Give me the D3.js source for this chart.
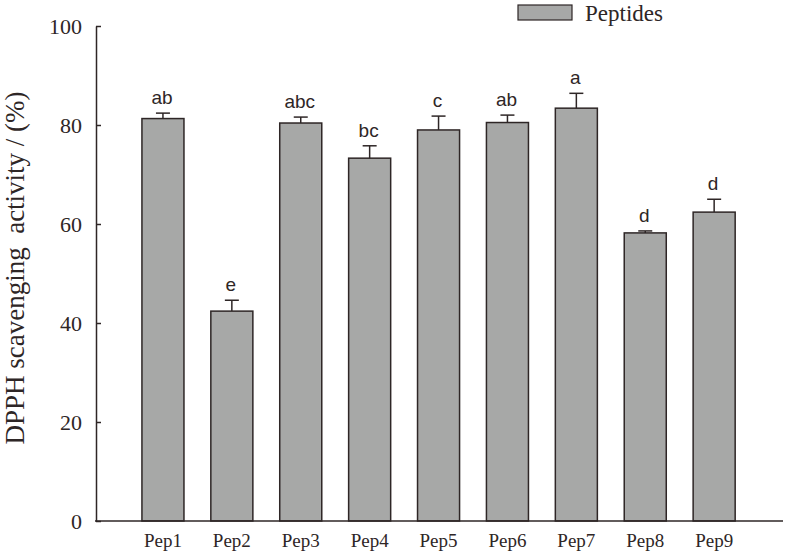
<!doctype html>
<html>
<head>
<script type='text/javascript' src='https://d3js.org/d3.v7.min.js'></script>
<style>body{margin:0;background:#fff;}</style>
</head>
<body>
<script>
var width = 788, height = 558;
// data
var peptides = ['Pep1','Pep2','Pep3','Pep4','Pep5','Pep6','Pep7','Pep8','Pep9'];
var activity = [81.3, 42.4, 80.4, 73.3, 79.0, 80.5, 83.4, 58.2, 62.4];
var errors = [1.1, 2.2, 1.2, 2.5, 2.8, 1.5, 3.0, 0.4, 2.6];
var letters = ['ab','e','abc','bc','c','ab','a','d','d'];
var yTicks = [0, 20, 40, 60, 80, 100];

var svg = d3.select('body').append('svg').attr('width', width).attr('height', height);
var ink = '#2e2626';
var serif = "'Liberation Serif', 'Times New Roman', serif";

var x = d3.scaleBand().domain(peptides).range([128.5, 748.6]).paddingInner(0.39).paddingOuter(0.195);
var y = d3.scaleLinear().domain([0, 100]).range([521, 26]);

// bars
svg.selectAll('rect.bar').data(peptides).join('rect')
  .attr('class','bar')
  .attr('x', function(d){ return x(d); })
  .attr('y', function(d,i){ return y(activity[i]); })
  .attr('width', x.bandwidth())
  .attr('height', function(d,i){ return y(0) - y(activity[i]); })
  .attr('fill', '#a7a8a7').attr('stroke', ink).attr('stroke-width', 1.5);

// error bars (upper only)
var eb = svg.selectAll('g.err').data(peptides).join('g').attr('class','err');
eb.append('line')
  .attr('x1', function(d){ return x(d) + x.bandwidth()/2; })
  .attr('x2', function(d){ return x(d) + x.bandwidth()/2; })
  .attr('y1', function(d,i){ return y(activity[i]); })
  .attr('y2', function(d,i){ return y(activity[i] + errors[i]); })
  .attr('stroke', ink).attr('stroke-width', 1.5);
eb.append('line')
  .attr('x1', function(d){ return x(d) + x.bandwidth()/2 - 7; })
  .attr('x2', function(d){ return x(d) + x.bandwidth()/2 + 7; })
  .attr('y1', function(d,i){ return y(activity[i] + errors[i]); })
  .attr('y2', function(d,i){ return y(activity[i] + errors[i]); })
  .attr('stroke', ink).attr('stroke-width', 1.5);

// significance letters
svg.selectAll('text.sig').data(peptides).join('text')
  .attr('class','sig')
  .attr('x', function(d){ return x(d) + x.bandwidth()/2 - 1; })
  .attr('y', function(d,i){ return y(activity[i] + errors[i]) - 9; })
  .attr('text-anchor','middle')
  .style('font-family',"'Liberation Sans', Arial, sans-serif").style('font-size','19px').attr('fill', ink)
  .text(function(d,i){ return letters[i]; });

// y axis
var yAxis = d3.axisLeft(y).tickValues(yTicks).tickSizeInner(-5).tickSizeOuter(0).tickPadding(14);
var gy = svg.append('g').attr('transform','translate(96,0)').call(yAxis);
gy.selectAll('path,line').attr('stroke', ink).attr('stroke-width', 1.5);
gy.selectAll('text').style('font-family', serif).style('font-size','22px').attr('fill', ink);

// x axis
var xAxis = d3.axisBottom(x).tickSize(0).tickPadding(13);
var gx = svg.append('g').attr('transform','translate(0,521)').call(xAxis);
gx.select('path').attr('d','M95,0H783').attr('stroke', ink).attr('stroke-width', 1.5);
gx.selectAll('text').style('font-family', serif).style('font-size','19px').attr('fill', ink);

// y title
svg.append('text')
  .attr('transform','translate(24,268) rotate(-90)')
  .attr('text-anchor','middle')
  .style('font-family', serif).style('font-size','27px').attr('fill', ink)
  .style('white-space','pre')
  .text('DPPH scavenging  activity / (%)');

// legend
svg.append('rect').attr('x',518).attr('y',5).attr('width',54).attr('height',15)
  .attr('fill','#a7a8a7').attr('stroke', ink).attr('stroke-width',1.2);
svg.append('text').attr('x',585).attr('y',21)
  .style('font-family', serif).style('font-size','23px').attr('fill', ink)
  .text('Peptides');
</script>
</body>
</html>
